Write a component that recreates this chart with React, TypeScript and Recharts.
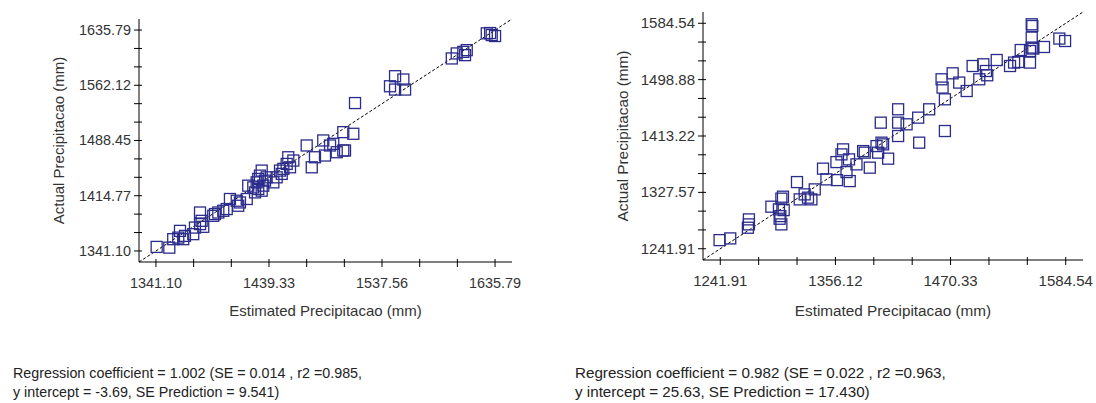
import { ReferenceLine, Scatter, ScatterChart, XAxis, YAxis } from 'recharts'

// Valores (mm). Esquerda: 71 pontos, direita: 72.
const LEFT_ESTIMATED = [
  1341.7, 1352.7, 1356.1, 1360.5, 1364.8, 1362.0, 1366.3, 1373.5, 1375.0, 1379.4, 1382.2, 1380.8,
  1379.4, 1390.9, 1392.4, 1395.3, 1399.6, 1402.6, 1405.4, 1411.3, 1412.6, 1414.1, 1420.0, 1421.3,
  1425.7, 1428.6, 1430.0, 1431.5, 1433.0, 1434.4, 1435.9, 1433.0, 1437.3, 1427.2, 1430.0, 1443.1,
  1446.0, 1448.9, 1450.4, 1451.8, 1454.7, 1457.6, 1460.5, 1456.1, 1472.1, 1476.5, 1479.3, 1486.5,
  1488.0, 1492.4, 1495.2, 1498.2, 1503.9, 1512.6, 1503.9, 1514.1, 1544.5, 1548.9, 1548.9, 1556.1,
  1557.6, 1598.2, 1602.5, 1608.2, 1611.2, 1609.7, 1628.6, 1632.9, 1635.8, 1631.5, 1505.4,
]
const LEFT_ACTUAL = [
  1346.5, 1345.5, 1356.8, 1358.9, 1356.8, 1367.9, 1361.2, 1363.5, 1372.3, 1376.9, 1373.3, 1381.3,
  1392.4, 1388.0, 1390.3, 1392.4, 1394.7, 1397.0, 1410.4, 1408.1, 1401.4, 1405.8, 1410.4, 1428.2,
  1425.9, 1432.6, 1437.2, 1441.6, 1448.3, 1428.2, 1434.9, 1421.5, 1439.3, 1419.2, 1423.8, 1432.6,
  1439.3, 1448.3, 1443.9, 1450.6, 1457.2, 1452.7, 1461.7, 1466.1, 1481.8, 1452.7, 1466.1, 1488.5,
  1468.4, 1481.8, 1484.0, 1472.8, 1475.1, 1497.4, 1499.6, 1538.4, 1560.8, 1574.2, 1556.4, 1569.8,
  1556.4, 1597.9, 1604.6, 1606.7, 1609.0, 1602.3, 1631.4, 1629.1, 1627.8, 1631.8, 1475.1,
]

const RIGHT_ESTIMATED = [
  1241.2, 1251.8, 1269.3, 1270.3, 1270.3, 1292.6, 1300.1, 1302.5, 1304.1, 1304.8, 1300.8, 1302.5,
  1301.5, 1318.0, 1320.7, 1325.6, 1328.9, 1332.3, 1335.6, 1343.8, 1347.2, 1357.1, 1357.7, 1362.1,
  1363.7, 1367.1, 1370.3, 1369.6, 1377.0, 1383.6, 1385.2, 1390.2, 1396.9, 1398.5, 1401.8, 1401.1,
  1403.4, 1408.4, 1418.3, 1418.3, 1418.3, 1426.7, 1438.2, 1439.2, 1449.1, 1461.4, 1462.4, 1464.7,
  1464.7, 1472.4, 1478.9, 1486.3, 1492.2, 1498.8, 1502.8, 1505.4, 1506.7, 1516.1, 1529.3, 1533.3,
  1537.5, 1539.9, 1549.1, 1550.8, 1550.8, 1551.4, 1550.8, 1549.1, 1552.4, 1563.0, 1578.2, 1583.9,
]
const RIGHT_ACTUAL = [
  1255.0, 1257.6, 1273.8, 1286.5, 1278.9, 1305.8, 1301.7, 1318.0, 1321.0, 1300.6, 1287.5, 1278.9,
  1291.5, 1343.2, 1316.9, 1324.5, 1319.5, 1316.9, 1332.1, 1363.6, 1347.3, 1373.6, 1346.2, 1385.3,
  1392.9, 1358.4, 1344.7, 1377.7, 1370.1, 1390.3, 1387.9, 1365.1, 1397.9, 1387.9, 1403.1, 1433.5,
  1400.5, 1378.8, 1453.8, 1433.5, 1413.2, 1431.0, 1441.1, 1403.1, 1453.8, 1499.4, 1486.8, 1469.0,
  1420.8, 1508.5, 1494.4, 1481.6, 1519.6, 1499.4, 1522.2, 1512.0, 1505.5, 1528.7, 1519.6, 1524.8,
  1525.7, 1543.9, 1524.8, 1547.6, 1562.8, 1580.4, 1583.0, 1542.4, 1546.1, 1548.5, 1561.3, 1557.6,
]

const LEFT_X_TICKS = [1341.1, 1439.33, 1537.56, 1635.79]
const LEFT_Y_TICKS = [1341.1, 1414.77, 1488.45, 1562.12, 1635.79]
const RIGHT_X_TICKS = [1241.91, 1356.12, 1470.33, 1584.54]
const RIGHT_Y_TICKS = [1241.91, 1327.57, 1413.22, 1498.88, 1584.54]

const LEFT_STATS = [
  'Regression coefficient = 1.002 (SE = 0.014 , r2 =0.985,',
  'y intercept = -3.69, SE Prediction = 9.541)',
]
const RIGHT_STATS = [
  'Regression coefficient = 0.982 (SE = 0.022 , r2 =0.963,',
  'y intercept = 25.63, SE Prediction = 17.430)',
]

const X_TITLE = 'Estimated Precipitacao (mm)'
const Y_TITLE = 'Actual Precipitacao (mm)'

const FONT = '"Liberation Sans", Arial, sans-serif'
const TEXT = '#333'
const MARK = '#2b2b8c'

// dois riscos menores entre cada rótulo
function withMinors(majors: number[]) {
  const out: number[] = []
  majors.forEach((m, i) => {
    out.push(m)
    const next = majors[i + 1]
    if (next !== undefined) {
      const step = (next - m) / 3
      out.push(m + step, m + 2 * step)
    }
  })
  return out
}

// o eixo vai 5% além do primeiro/último rótulo
function padded(majors: number[]): [number, number] {
  const lo = majors[0]
  const hi = majors[majors.length - 1]
  const pad = (hi - lo) * 0.05
  return [lo - pad, hi + pad]
}

const isMajor = (majors: number[], v: number) => majors.some((m) => Math.abs(m - v) < 1e-6)

function Square({ cx, cy }: any) {
  if (cx == null || cy == null) return null
  return <rect x={cx - 5.5} y={cy - 5.5} width={11} height={11} fill="none" stroke={MARK} strokeWidth={1.3} />
}

type PanelProps = {
  estimated: number[]
  actual: number[]
  xTicks: number[]
  yTicks: number[]
  width: number
  height: number
  top: number
  right: number
  yAxisWidth: number
  plotHeight: number
  yTitleX: number
  xTitleY: number
  tickFont: number
  titleFont: number
}

function Panel(p: PanelProps) {
  const data = p.estimated.map((x, i) => ({ x, y: p.actual[i] }))
  const xDomain = padded(p.xTicks)
  const yDomain = padded(p.yTicks)
  const xAxisHeight = p.height - p.top - p.plotHeight

  return (
    <ScatterChart width={p.width} height={p.height} margin={{ top: p.top, right: p.right, bottom: 0, left: 0 }}>
      <XAxis
        type="number"
        dataKey="x"
        domain={xDomain}
        ticks={withMinors(p.xTicks)}
        interval={0}
        allowDataOverflow
        height={xAxisHeight}
        axisLine={{ stroke: '#000' }}
        tickLine={false}
        tickSize={0}
        tickMargin={0}
        tick={({ x, y, payload }: any) => (
          <g>
            <line x1={x} x2={x} y1={y - 3} y2={y + 5} stroke="#000" />
            {isMajor(p.xTicks, payload.value) && (
              <text x={x} y={y + 26} textAnchor="middle" fontSize={p.tickFont} fontFamily={FONT} fill={TEXT}>
                {payload.value.toFixed(2)}
              </text>
            )}
          </g>
        )}
        label={({ viewBox }: any) =>
          viewBox ? (
            <text
              x={viewBox.x + viewBox.width / 2}
              y={p.xTitleY}
              textAnchor="middle"
              fontSize={p.titleFont}
              fontFamily={FONT}
              fill={TEXT}
            >
              {X_TITLE}
            </text>
          ) : null
        }
      />
      <YAxis
        type="number"
        dataKey="y"
        domain={yDomain}
        ticks={withMinors(p.yTicks)}
        interval={0}
        allowDataOverflow
        width={p.yAxisWidth}
        axisLine={{ stroke: '#000' }}
        tickLine={false}
        tickSize={0}
        tickMargin={0}
        tick={({ x, y, payload }: any) => (
          <g>
            <line x1={x - 5} x2={x + 3} y1={y} y2={y} stroke="#000" />
            {isMajor(p.yTicks, payload.value) && (
              <text x={x - 8} y={y + 5} textAnchor="end" fontSize={p.tickFont} fontFamily={FONT} fill={TEXT}>
                {payload.value.toFixed(2)}
              </text>
            )}
          </g>
        )}
        label={({ viewBox }: any) => {
          if (!viewBox) return null
          const cy = viewBox.y + viewBox.height / 2
          return (
            <text
              x={p.yTitleX}
              y={cy}
              transform={`rotate(-90 ${p.yTitleX} ${cy})`}
              textAnchor="middle"
              dominantBaseline="central"
              fontSize={p.titleFont}
              fontFamily={FONT}
              fill={TEXT}
            >
              {Y_TITLE}
            </text>
          )
        }}
      />
      <ReferenceLine
        segment={[
          { x: xDomain[0], y: yDomain[0] },
          { x: xDomain[1], y: yDomain[1] },
        ]}
        stroke="#000"
        strokeDasharray="3 2"
        ifOverflow="visible"
      />
      <Scatter data={data} shape={Square} isAnimationActive={false} />
    </ScatterChart>
  )
}

function Stats({ lines, left, size }: { lines: string[]; left: number; size: number }) {
  return (
    <div
      style={{
        position: 'absolute',
        left,
        top: 364,
        fontFamily: FONT,
        fontSize: size,
        lineHeight: '18.5px',
        color: '#222',
        whiteSpace: 'nowrap',
      }}
    >
      {lines.map((l) => (
        <div key={l}>{l}</div>
      ))}
    </div>
  )
}

export default function App() {
  return (
    <div style={{ position: 'absolute', left: 0, top: 0, width: 1096, height: 403, background: '#fff' }}>
      <div style={{ position: 'absolute', left: 0, top: 0 }}>
        <Panel
          estimated={LEFT_ESTIMATED}
          actual={LEFT_ACTUAL}
          xTicks={LEFT_X_TICKS}
          yTicks={LEFT_Y_TICKS}
          width={560}
          height={330}
          top={19}
          right={48}
          yAxisWidth={139}
          plotHeight={243}
          yTitleX={58}
          xTitleY={316}
          tickFont={14.4}
          titleFont={15}
        />
      </div>
      <div style={{ position: 'absolute', left: 560, top: 0 }}>
        <Panel
          estimated={RIGHT_ESTIMATED}
          actual={RIGHT_ACTUAL}
          xTicks={RIGHT_X_TICKS}
          yTicks={RIGHT_Y_TICKS}
          width={536}
          height={330}
          top={12}
          right={13}
          yAxisWidth={143}
          plotHeight={248}
          yTitleX={62}
          xTitleY={316}
          tickFont={15}
          titleFont={15.3}
        />
      </div>
      <Stats lines={LEFT_STATS} left={13} size={14.3} />
      <Stats lines={RIGHT_STATS} left={575} size={15.2} />
    </div>
  )
}
